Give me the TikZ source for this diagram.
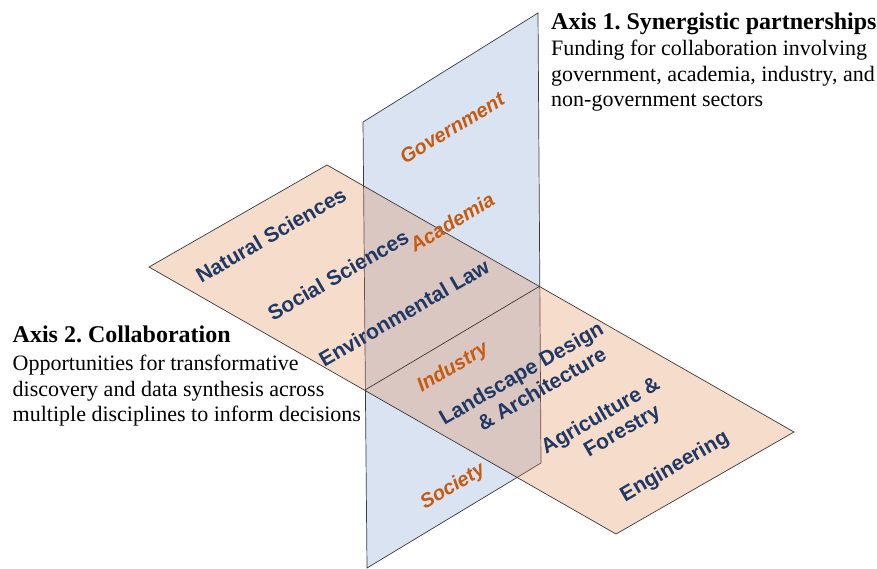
\documentclass[tikz,border=0pt]{standalone}
\usepackage{fontspec}
\setmainfont{Liberation Serif}
\newfontfamily\labelfont{Liberation Sans}
\usetikzlibrary{positioning}
\definecolor{Line}{HTML}{3A3A3A}
\definecolor{Vert}{HTML}{DAE3F1}
\definecolor{Horiz}{HTML}{DE8246}
\definecolor{Field}{HTML}{203864}
\definecolor{Sector}{HTML}{C55A11}
\frenchspacing

\begin{document}
\begin{tikzpicture}[x=1pt,y=-1pt,
 v/.style={draw=Line,line width=0.7pt,fill=Vert},
 h/.style={draw=Line,line width=0.7pt,fill=Horiz,fill opacity=0.28},
 f/.style={font=\labelfont\bfseries\fontsize{21}{24}\selectfont,text=Field,rotate=30,align=center,inner sep=0pt},
 s/.style={font=\labelfont\bfseries\itshape\fontsize{20}{22}\selectfont,text=Sector,rotate=31,inner sep=0pt},
 t/.style={font=\bfseries\fontsize{24}{26}\selectfont,anchor=base west,inner sep=0pt},
 b/.style={font=\fontsize{22}{25.5}\selectfont,align=left,anchor=north west,inner sep=0pt}
]
\useasboundingbox (0,0) rectangle (877,569);
% corners of the two planes
\coordinate (v1) at (363,122); \coordinate (v2) at (538,13);
\coordinate (v3) at (541,463); \coordinate (v4) at (367,568);
\coordinate (h1) at (149,267); \coordinate (h2) at (327,165);
\coordinate (h3) at (794,432); \coordinate (h4) at (616,534);
\coordinate (x1) at (365,390); \coordinate (x2) at (540,286);
\draw[v] (v1)--(v2)--(v3)--(v4)--cycle;
\draw[h] (h1)--(h2)--(h3)--(h4)--cycle;
\draw[draw=Line,line width=0.7pt] (x1)--(x2);
% sectors on the upright plane
\node[s] (gov) at (452,128) {Government};
\node[s] (aca) at (452,222) {Academia};
\node[s] (ind) at (453,368) {Industry};
\node[s] (soc) at (453,487) {Society};
% disciplines on the flat plane
\node[f] (nat) at (271,235) {Natural Sciences};
\node[f] (socsci) at (338,275) {Social Sciences};
\node[f] (env) at (404,313) {Environmental Law};
\node[f] (land) at (527,383) {Landscape Design\\\hspace*{20pt}\& Architecture};
\node[f] (agri) at (607,427) {Agriculture \&\\\hspace*{22pt}Forestry};
\node[f] (eng) at (675,467) {Engineering};
% axis captions
\node[t] (ax1) at (551,30) {Axis 1. Synergistic partnerships};
\node[b] (ax1txt) at (551,40) {Funding for collaboration involving\\government, academia, industry, and\\non-government sectors};
\node[t] (ax2) at (12.5,342) {Axis 2. Collaboration};
\node[b] (ax2txt) at (12.5,355) {Opportunities for transformative\\discovery and data synthesis across\\multiple disciplines to inform decisions};
\end{tikzpicture}
\end{document}
